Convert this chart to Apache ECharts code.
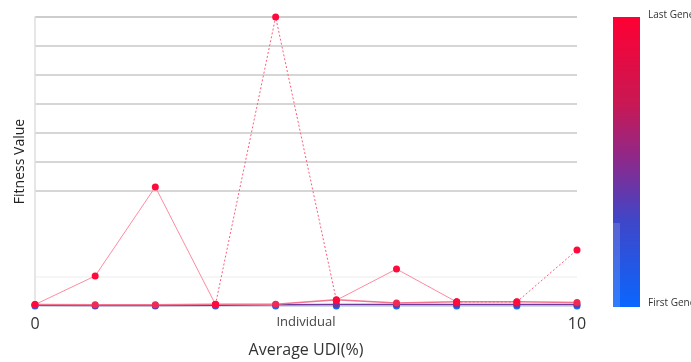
<!DOCTYPE html>
<html>
<head>
<meta charset="utf-8">
<script src="https://cdn.jsdelivr.net/npm/echarts@6/dist/echarts.min.js"></script>
<style>
  html, body { margin: 0; padding: 0; background: #fff; }
  #chart { width: 691px; height: 362px; }
</style>
</head>
<body>
<div id="chart"></div>
<script>
// Individual positions along the x axis (ten individuals spread over 0..10)
const individuals = [0, 1.11, 2.22, 3.33, 4.44, 5.56, 6.67, 7.78, 8.89, 10];

// Fitness per generation
const firstGen = [0, 0, 0, 0, 0, 0, 0, 0, 0, 0];
const midGen = [0.03, 0.02, 0.02, 0.03, 0.04, 0.05, 0.05, 0.05, 0.05, 0.05];
const lateGen = [0.05, 0.04, 0.04, 0.06, 0.06, 0.22, 0.1, 0.15, 0.15, 0.12];
const lastGen = [0.05, 1.04, 4.12, 0.05, 10.0, 0.2, 1.28, 0.14, 0.14, 1.94];

// Segments of the last generation drawn with a solid line vs. a dotted line
const lastSolidIdx = [0, 1, 2, 3, 5, 6, 7];
const lastDottedIdx = [3, 4, 5, 7, 8, 9];

// Axis tick labels
const xTickLabels = { 0: '0', 5: 'Individual', 10: '10' };

const pairs = (vals, idx) => individuals.map((x, i) =>
  idx === undefined || idx.includes(i) ? [x, vals[i]] : [x, null]);

const chart = echarts.init(document.getElementById('chart'), null, { renderer: 'canvas' });

const FONT = '"Open Sans", "Noto Sans", sans-serif';

function genSeries(name, data, lineColor, dotColor, width, type, z) {
  return {
    name, type: 'line', data, z,
    connectNulls: false,
    symbol: 'circle', symbolSize: 7,
    showSymbol: true,
    lineStyle: { color: lineColor, width, type },
    itemStyle: { color: dotColor },
    animation: false
  };
}

chart.setOption({
  animation: false,
  grid: { left: 35, right: 114, top: 17, bottom: 56, outerBoundsMode: 'none', containLabel: false },
  xAxis: {
    type: 'value', min: 0, max: 10, interval: 5,
    name: 'Average UDI(%)', nameLocation: 'middle', nameGap: 36,
    nameTextStyle: { fontFamily: FONT, fontSize: 16, color: '#333' },
    axisLine: { show: true, lineStyle: { color: '#e2e2e2', width: 1 } },
    axisTick: { show: false },
    splitLine: { show: false },
    axisLabel: {
      margin: 10,
      fontFamily: FONT,
      formatter: v => (v === 5 ? '{s|' : '{b|') + (xTickLabels[v] || '') + '}',
      rich: {
        b: { fontFamily: FONT, fontSize: 16, color: '#333' },
        s: { fontFamily: FONT, fontSize: 13, color: '#444' }
      }
    }
  },
  yAxis: {
    type: 'value', min: 0, max: 10, interval: 1,
    name: 'Fitness Value', nameLocation: 'middle', nameGap: 8,
    nameTextStyle: { fontFamily: FONT, fontSize: 14, color: '#222' },
    axisLine: { show: true, lineStyle: { color: '#dedede', width: 1.5 } },
    axisTick: { show: false },
    axisLabel: { show: false },
    splitLine: {
      show: true,
      lineStyle: {
        width: 1.5,
        color: ['rgba(0,0,0,0)', '#f3f3f3', 'rgba(0,0,0,0)', 'rgba(0,0,0,0)',
                '#c9c9c9', '#c9c9c9', '#c9c9c9', '#c9c9c9', '#c9c9c9', '#c9c9c9', '#bdbdbd']
      }
    }
  },
  graphic: [
    {
      type: 'rect', left: 613, top: 17, z: 10,
      shape: { width: 27, height: 290 },
      style: {
        fill: new echarts.graphic.LinearGradient(0, 0, 0, 1, [
          { offset: 0, color: '#ff0033' },
          { offset: 0.3, color: '#c81854' },
          { offset: 0.5, color: '#8a2a8e' },
          { offset: 0.7, color: '#3f46c8' },
          { offset: 1, color: '#0a66ff' }
        ])
      }
    },
    {
      type: 'rect', left: 613, top: 223, z: 11,
      shape: { width: 7, height: 84 },
      style: { fill: 'rgba(255,255,255,0.15)' }
    },
    {
      type: 'text', left: 648, top: 10, z: 10,
      style: { text: 'Last Generation', font: '10px ' + FONT, fill: '#333' }
    },
    {
      type: 'text', left: 648, top: 298, z: 10,
      style: { text: 'First Generation', font: '10px ' + FONT, fill: '#333' }
    }
  ],
  series: [
    genSeries('First Gen', pairs(firstGen), '#a9c4ff', '#1a6cff', 1, 'solid', 2),
    genSeries('Mid Gen', pairs(midGen), '#6d3a9c', '#6d3a9c', 1.5, 'solid', 3),
    genSeries('Late Gen', pairs(lateGen), '#f4738f', '#ee2a55', 1.5, 'solid', 4),
    genSeries('Last Gen', pairs(lastGen, lastSolidIdx), '#ff8aa0', '#ff0a3c', 1, 'solid', 5),
    genSeries('Last Gen ', pairs(lastGen, lastDottedIdx), '#ff5c7c', '#ff0a3c', 1, [2, 2], 5)
  ]
});
</script>
</body>
</html>
